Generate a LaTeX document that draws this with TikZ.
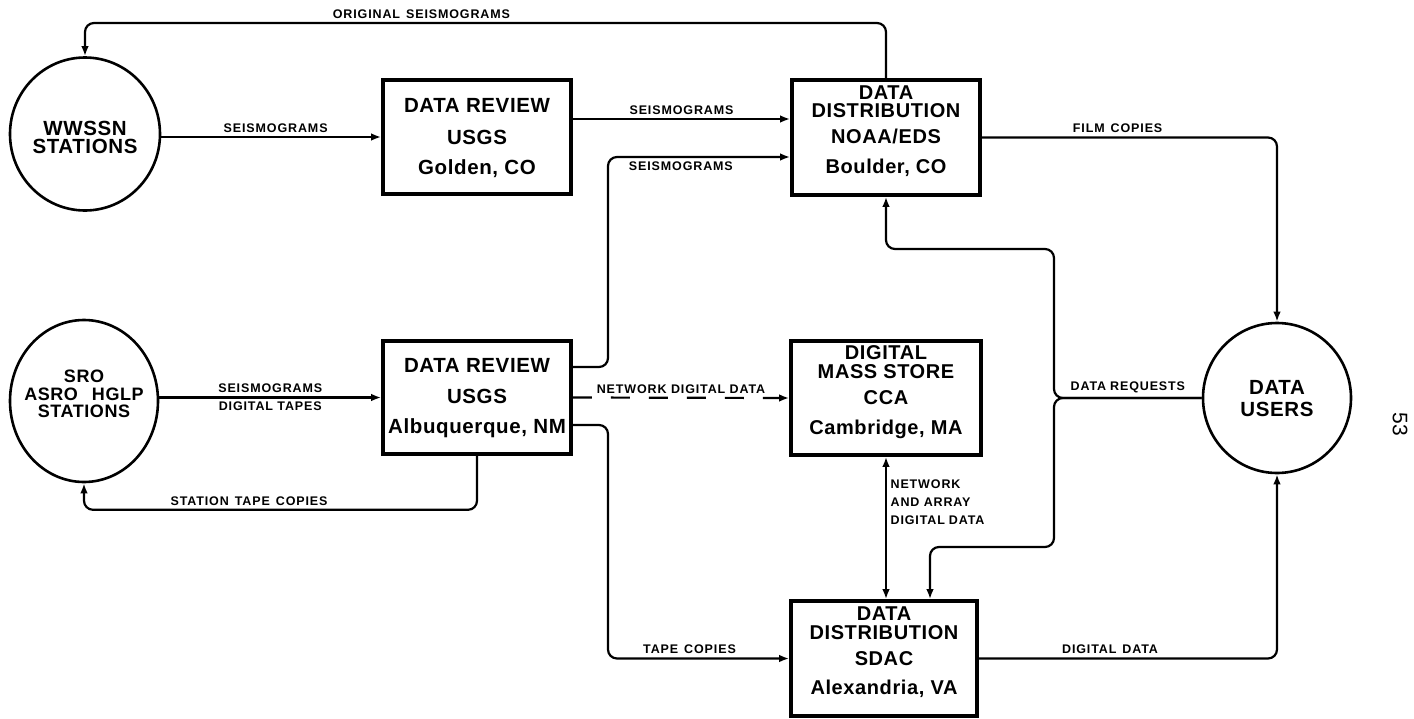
\documentclass[tikz,border=0pt]{standalone}
\usepackage{fontspec}
\setmainfont{Liberation Sans}
\newfontfamily\boxfont[LetterSpace=3]{Liberation Sans}
\newfontfamily\tagfont[LetterSpace=7]{Liberation Sans}
\usetikzlibrary{arrows.meta,shapes.geometric}

\begin{document}
\begin{tikzpicture}[x=1pt,y=-1pt,
    >={Latex[length=10pt,width=7.5pt]},
    box/.style={draw,line width=3.6pt,minimum width=188pt,minimum height=114pt,inner sep=0pt},
    station/.style={draw,ellipse,line width=2.6pt,inner sep=0pt},
    bigtext/.style={font=\boxfont\bfseries\fontsize{20.5}{18}\selectfont,align=center,inner sep=0pt},
    link/.style={line width=2.2pt,rounded corners=9pt},
    lbl/.style={font=\tagfont\bfseries\fontsize{12.5}{18}\selectfont,inner sep=3.5pt}]
    \useasboundingbox (0,0) rectangle (1414,718);

    \path (85,134)     node [station,minimum width=150pt,minimum height=153pt] (wwssn) {};
    \path (84,401)     node [station,minimum width=148pt,minimum height=162pt] (sro)   {};
    \path (1277,398)   node [station,minimum width=148pt,minimum height=150pt] (users) {};

    \path (477,137)    node [box]                                      (golden) {};
    \path (886,137.5)  node [box,minimum height=115pt]                 (noaa)   {};
    \path (477,397.5)  node [box,minimum height=113pt]                 (albq)   {};
    \path (886,398)    node [box,minimum width=190pt]                  (cca)    {};
    \path (884,658.5)  node [box,minimum width=186pt,minimum height=115pt] (sdac) {};

    \path (85,137)     node [bigtext] (wwssn-t) {WWSSN\\STATIONS};
    \path (84,394)     node [bigtext,font=\boxfont\bfseries\fontsize{18}{17.5}\selectfont]
                            (sro-t) {SRO\\ASRO\hspace{14pt}HGLP\\STATIONS};
    \path (1277,399)   node [bigtext,font=\boxfont\bfseries\fontsize{20.5}{22}\selectfont]
                            (users-t) {DATA\\USERS};
    \path (477,138)    node [bigtext] (golden-t) {DATA REVIEW\\[14pt]USGS\\[12pt]Golden, CO};
    \path (886,131)    node [bigtext,font=\boxfont\bfseries\fontsize{20}{18.5}\selectfont]
                            (noaa-t) {DATA\\DISTRIBUTION\\[7.5pt]NOAA/EDS\\[11.5pt]Boulder,\hspace{6pt}CO};
    \path (477,398.5)  node [bigtext] (albq-t) {DATA REVIEW\\[13pt]USGS\\[12pt]Albuquerque, NM};
    \path (886,392)    node [bigtext,font=\boxfont\bfseries\fontsize{20}{18.5}\selectfont]
                            (cca-t) {DIGITAL\\MASS\hspace{6pt}STORE\\[7.5pt]CCA\\[11.5pt]Cambridge, MA};
    \path (884,652)    node [bigtext,font=\boxfont\bfseries\fontsize{20}{18.5}\selectfont]
                            (sdac-t) {DATA\\DISTRIBUTION\\[7.5pt]SDAC\\[10.5pt]Alexandria, VA};

    \path (1400,424)   node [rotate=-90,font=\fontsize{21}{21}\selectfont] (page) {53};

    \coordinate (orig)    at (0,23);
    \coordinate (seisa)   at (0,119);
    \coordinate (seisb)   at (0,157);
    \coordinate (albqa)   at (0,367);
    \coordinate (albqc)   at (0,425);
    \coordinate (lane)    at (608,0);
    \coordinate (reqx)    at (1054,0);
    \coordinate (requp)   at (0,249);
    \coordinate (reqdown) at (0,547);
    \coordinate (sdacin)  at (930,0);

    \draw [link,->] (noaa.north) |- (wwssn.north |- orig)
     node [lbl,above,pos=.79] {ORIGINAL\hspace{6pt}SEISMOGRAMS} -- (wwssn.north);
    \draw [link,->] (wwssn.east |- golden.west) -- (golden.west)
     node [lbl,above,pos=.52] {SEISMOGRAMS};
    \draw [link,->] (golden.east |- seisa) -- (noaa.west |- seisa)
     node [lbl,above,pos=.5] {SEISMOGRAMS};
    \draw [link,->] (albq.east |- albqa) -| (lane |- seisb) -- (noaa.west |- seisb)
     node [lbl,below,pos=.4] {SEISMOGRAMS};
    \draw [link,->] (noaa.east) -| (users.north)
     node [lbl,above,pos=.23] {FILM\hspace{6pt}COPIES};

    \draw [link,->] (sro.east |- albq.west) -- (albq.west)
     node [lbl,above,pos=.5] {SEISMOGRAMS} node [lbl,below,pos=.5] {DIGITAL TAPES};
    \draw [link,->] (albq.south) -- ++(0,54) -| (sro.south)
     node [lbl,above,pos=.29] {STATION\hspace{6pt}TAPE\hspace{6pt}COPIES};
    \draw [link,->,dash pattern=on 19pt off 19pt] (albq.east) -- (cca.west)
     node [lbl,above,pos=.5] {NETWORK DIGITAL DATA};
    \draw [link,->] (albq.east |- albqc) -| (lane |- sdac.west) -- (sdac.west)
     node [lbl,above,pos=.45] {TAPE\hspace{6pt}COPIES};

    \draw [link,<->] (cca.south) -- (cca.south |- sdac.north)
     node [lbl,right,align=left,pos=.32] {NETWORK\\AND ARRAY\\DIGITAL\hspace{4pt}DATA};

    \draw [link,->] (users.west) -| (reqx |- requp)
     node [lbl,above,pos=.25] {DATA\hspace{4pt}REQUESTS} -| (noaa.south);
    \draw [link,->] (users.west) -| (reqx |- reqdown) -| (sdacin |- sdac.north);
    \draw [link,->] (sdac.east) -| (users.south)
     node [lbl,above,pos=.22] {DIGITAL\hspace{6pt}DATA};
\end{tikzpicture}
\end{document}
